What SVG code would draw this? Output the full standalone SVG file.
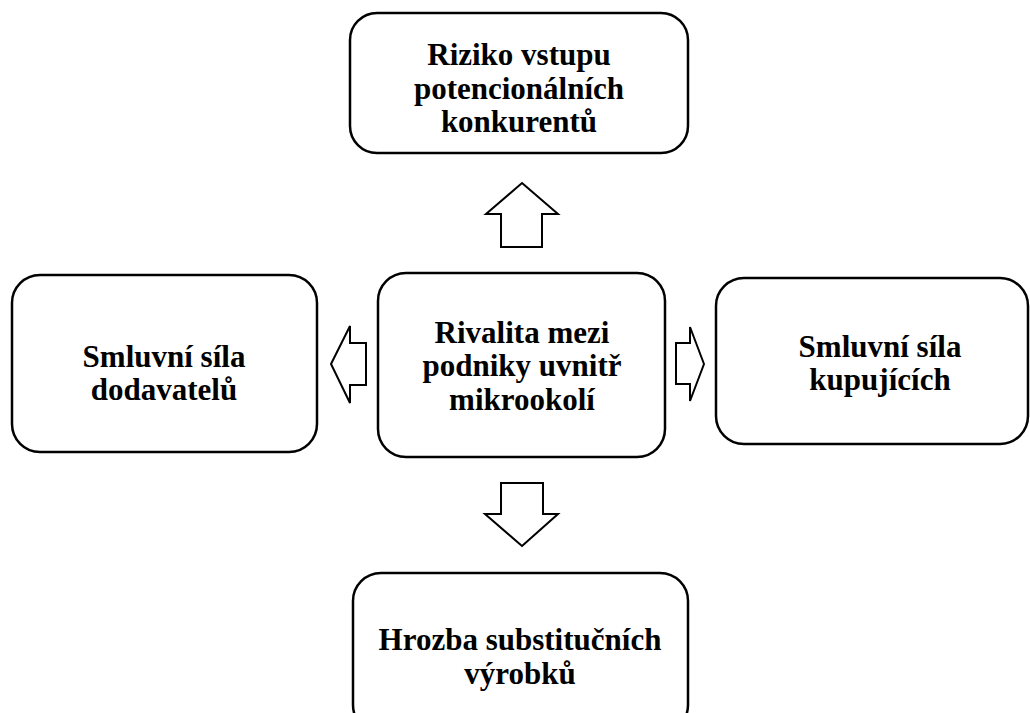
<svg xmlns="http://www.w3.org/2000/svg" width="1030" height="713" viewBox="0 0 1030 713">
<style>
.box{fill:#fff;stroke:#000;stroke-width:2.5}
.arr{fill:#fff;stroke:#000;stroke-width:2;stroke-linejoin:miter}
text{font-family:"Liberation Serif","Times New Roman",serif;font-weight:bold;font-size:31px;text-anchor:middle;fill:#000}
</style>
<rect width="1030" height="713" fill="#fff"/>
<g id="connectors">
<polygon class="arr" points="522,183 558,214 542,214 542,247 501,247 501,214 486,214"/>
<polygon class="arr" points="331,364 350,326 350,343 366,343 366,385 350,385 350,403"/>
<polygon class="arr" points="704,364 690,327 690,343 676,343 676,384 690,384 690,401"/>
<polygon class="arr" points="522,546 558,514 543,514 543,483 501,483 501,514 485,514"/>
</g>
<g id="top">
<rect class="box" x="350" y="13" width="338" height="140" rx="27"/>
<text x="519" y="65">Riziko vstupu</text>
<text x="519" y="99">potencionálních</text>
<text x="519" y="132">konkurentů</text>
</g>
<g id="center">
<rect class="box" x="378" y="273" width="287" height="184" rx="28"/>
<text x="522" y="343">Rivalita mezi</text>
<text x="522" y="376">podniky uvnitř</text>
<text x="522" y="410">mikrookolí</text>
</g>
<g id="left">
<rect class="box" x="12" y="275" width="305" height="177" rx="28"/>
<text x="164" y="367">Smluvní síla</text>
<text x="164" y="400">dodavatelů</text>
</g>
<g id="right">
<rect class="box" x="716" y="278" width="312" height="166" rx="28"/>
<text x="880" y="357">Smluvní síla</text>
<text x="880" y="390">kupujících</text>
</g>
<g id="bottom">
<rect class="box" x="353" y="573" width="335" height="160" rx="28"/>
<text x="520" y="650">Hrozba substitučních</text>
<text x="520" y="684">výrobků</text>
</g>
</svg>
